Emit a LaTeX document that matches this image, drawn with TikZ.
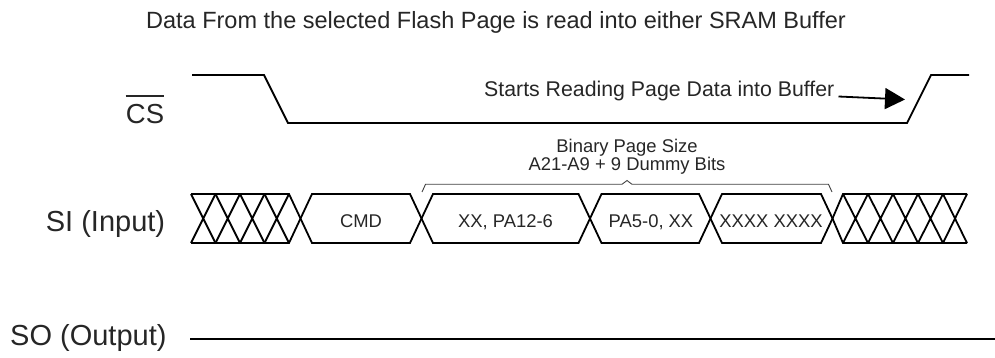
\documentclass[tikz,border=0pt]{standalone}
\usepackage{fontspec}
\setmainfont{Liberation Sans}
\usetikzlibrary{arrows.meta}

\begin{document}
\begin{tikzpicture}[x=1pt,y=-1pt,
    sig/.style={line width=1.8pt, line join=miter},
    sigtxt/.style={inner sep=0pt, text=black!85, font=\fontsize{29}{29}\selectfont},
    bustxt/.style={inner sep=0pt, text=black!85, font=\fontsize{18.4}{18.4}\selectfont}]
\useasboundingbox (0,0) rectangle (995,358);

\node[inner sep=0pt, text=black!85, font=\fontsize{23.5}{23.5}\selectfont, anchor=base] (title) at (496,28.3)
    {Data From the selected Flash Page is read into either SRAM Buffer};

% chip select
\node[sigtxt, font=\fontsize{27.5}{27.5}\selectfont, anchor=base] (cslbl) at (145,123.3) {CS};
\draw[line width=1.5pt, black!85] ([yshift=8pt]cslbl.north west) -- ([yshift=8pt]cslbl.north east);
\draw[sig] (192,75) -- (264,75) -- (288,123) -- (907,123) -- (931,75) -- (969,75);
\node[bustxt, font=\fontsize{21.3}{21.3}\selectfont, anchor=base west] (reading) at (484,96.5)
    {Starts Reading Page Data into Buffer};
\coordinate (csrise) at (905,99.5);
\draw[line width=1.8pt, -{Triangle[length=20pt,width=21pt]}] ([xshift=4pt]reading.base east) -- (csrise);

% serial input
\node[sigtxt, anchor=base] (silbl) at (105.5,231) {SI (Input)};
\draw[sig] (191,194) -- (289,194) -- (300.5,218.5) -- (289,243) -- (191,243);
\draw[sig] (967,194) -- (843,194) -- (832.5,218.5) -- (843,243) -- (967,243);
\foreach \a/\b in {191/215.5, 215.5/240, 240/264.5, 264.5/289, 843/868, 868/893, 893/918, 918/943, 943/967}
    \draw[sig] (\a,194) -- (\b,243) (\a,243) -- (\b,194);
\foreach \a/\b in {300.5/421.5, 421.5/590, 590/710.5, 710.5/832.5}
    \draw[sig] (\a,218.5) -- (\a+11.5,194) -- (\b-11.5,194) -- (\b,218.5) -- (\b-11.5,243) -- (\a+11.5,243) -- cycle;
\node[bustxt, anchor=base] (cmdbyte) at (361,227.3) {CMD};
\node[bustxt, anchor=base] (addrhi) at (505.5,227.3) {XX, PA12-6};
\node[bustxt, anchor=base] (addrlo) at (651,227.3) {PA5-0, XX};
\node[bustxt, anchor=base] (dummy) at (771,227.3) {XXXX XXXX};

\draw[line width=0.9pt, black!75] (422,192) -- (425.5,184.3) -- (622,184.3) -- (627,180.5)
    -- (632,184.3) -- (828.5,184.3) -- (832,192);
\node[bustxt, anchor=base] (pgsize) at (627,152.7) {Binary Page Size};
\node[bustxt, anchor=base] (pgbits) at (627,170.7) {A21-A9 + 9 Dummy Bits};

% serial output
\node[sigtxt, anchor=base west] (solbl) at (10,345.5) {SO (Output)};
\coordinate (sostart) at (190,339);
\coordinate (soend) at (995,339);
\draw[sig] (sostart) -- (soend);
\end{tikzpicture}
\end{document}
